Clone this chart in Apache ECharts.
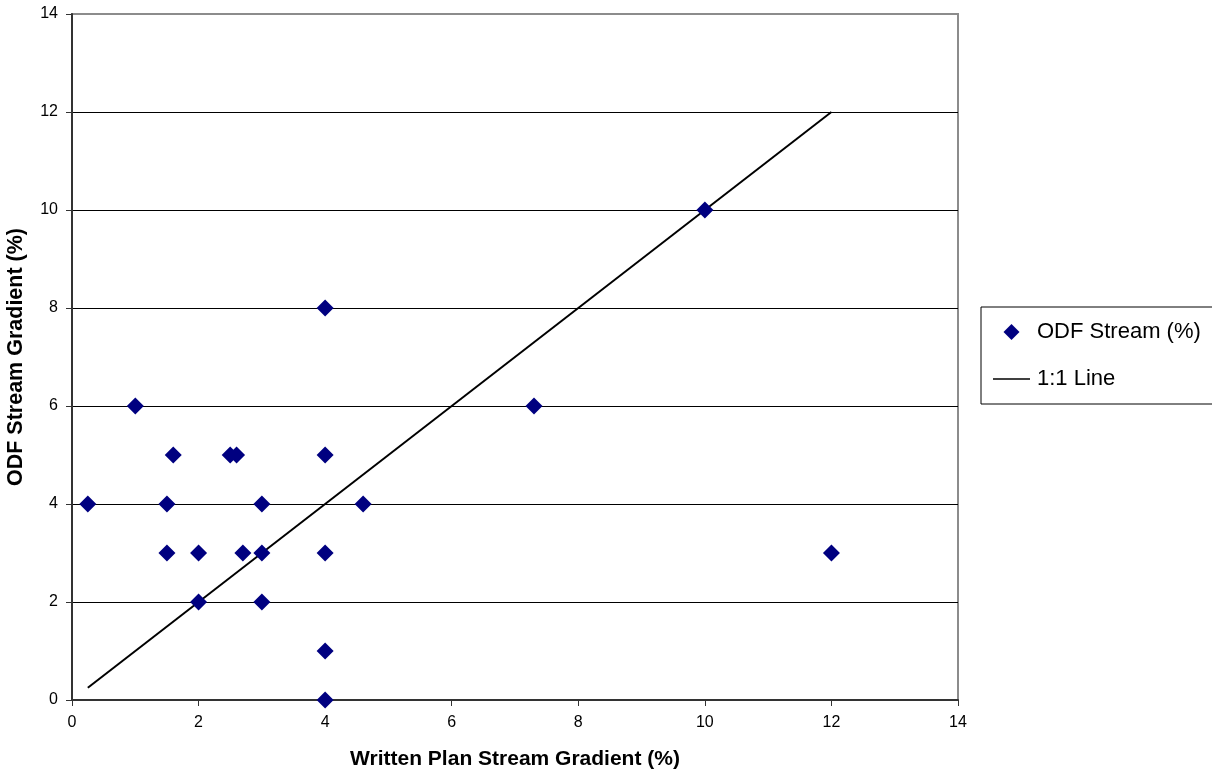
<!DOCTYPE html>
<html>
<head>
<meta charset="utf-8">
<script src="https://cdn.jsdelivr.net/npm/echarts@6/dist/echarts.min.js"></script>
<style>
  html, body { margin: 0; padding: 0; background: #fff; }
  #chart { width: 1212px; height: 776px; }
</style>
</head>
<body>
<div id="chart"></div>
<script>
// Written plan vs. ODF stream gradient observations (%)
const planGradient = [0.25, 1, 1.6, 1.5, 1.5, 2, 2, 2.5, 2.6, 2.7, 3, 3, 3, 4, 4, 4, 4, 4, 4.6, 7.3, 10, 12];
const odfGradient  = [4,    6, 5,   4,   3,   3, 2, 5,   5,   3,   4, 3, 2, 8, 5, 3, 1, 0, 4,   6,   10, 3];
// End points of the 1:1 reference line
const lineX = [0.25, 12];
const lineY = [0.25, 12];

const fontFamily = '"Liberation Sans", Arial, sans-serif';

// Legend glyphs: a square-aspect diamond and a thin horizontal rule
const diamondIcon = 'path://M0,-1L1,0L0,1L-1,0Z';
const ruleIcon = 'path://M0,0L37,0L37,1.3L0,1.3Z';

const chart = echarts.init(document.getElementById('chart'));
chart.setOption({
  animation: false,
  backgroundColor: '#fff',
  textStyle: { fontFamily: fontFamily, color: '#000' },
  grid: {
    left: 72, right: 254, top: 14, bottom: 76,
    outerBoundsMode: 'none',
    containLabel: false,
    show: true, borderColor: '#8c8c8c', borderWidth: 2, backgroundColor: 'transparent'
  },
  xAxis: {
    type: 'value', min: 0, max: 14, interval: 2,
    name: 'Written Plan Stream Gradient (%)',
    nameLocation: 'middle', nameGap: 49,
    nameTextStyle: { fontSize: 21, fontWeight: 'bold', color: '#000', fontFamily: fontFamily },
    axisLine: { show: true, onZero: false, lineStyle: { color: '#333', width: 2 } },
    axisTick: { show: true, inside: false, length: 6, lineStyle: { color: '#333', width: 1 } },
    axisLabel: { fontSize: 16, color: '#000', margin: 15, fontFamily: fontFamily },
    splitLine: { show: false }
  },
  yAxis: {
    type: 'value', min: 0, max: 14, interval: 2,
    name: 'ODF Stream Gradient (%)',
    nameLocation: 'middle', nameGap: 45, nameRotate: 90,
    nameTextStyle: { fontSize: 21.5, fontWeight: 'bold', color: '#000', fontFamily: fontFamily },
    axisLine: { show: true, onZero: false, lineStyle: { color: '#333', width: 2 } },
    axisTick: { show: true, inside: false, length: 6, lineStyle: { color: '#333', width: 1 } },
    axisLabel: { fontSize: 16, color: '#000', margin: 14, fontFamily: fontFamily },
    splitLine: { show: true, showMinLine: false, showMaxLine: false, lineStyle: { color: '#000', width: 1 } }
  },
  legend: {
    orient: 'vertical',
    left: 981, top: 307,
    padding: [14, 60, 14, 12],
    itemWidth: 37, itemHeight: 16, itemGap: 25,
    symbolKeepAspect: true,
    borderColor: '#000', borderWidth: 1,
    textStyle: { fontSize: 22, color: '#000', fontFamily: fontFamily, padding: [0, 0, 0, 2] },
    data: [
      { name: 'ODF Stream (%)', icon: diamondIcon, itemStyle: { color: '#000080', opacity: 1 } },
      { name: '1:1 Line', icon: ruleIcon, itemStyle: { color: '#000', opacity: 1 } }
    ]
  },
  series: [
    {
      name: '1:1 Line',
      type: 'line',
      data: lineX.map((x, i) => [x, lineY[i]]),
      symbol: 'none',
      lineStyle: { color: '#000', width: 2 },
      itemStyle: { color: '#000' },
      z: 2
    },
    {
      name: 'ODF Stream (%)',
      type: 'scatter',
      data: planGradient.map((x, i) => [x, odfGradient[i]]),
      symbol: 'diamond',
      symbolSize: 17,
      itemStyle: { color: '#000080', opacity: 1 },
      z: 3
    }
  ]
});
</script>
</body>
</html>
